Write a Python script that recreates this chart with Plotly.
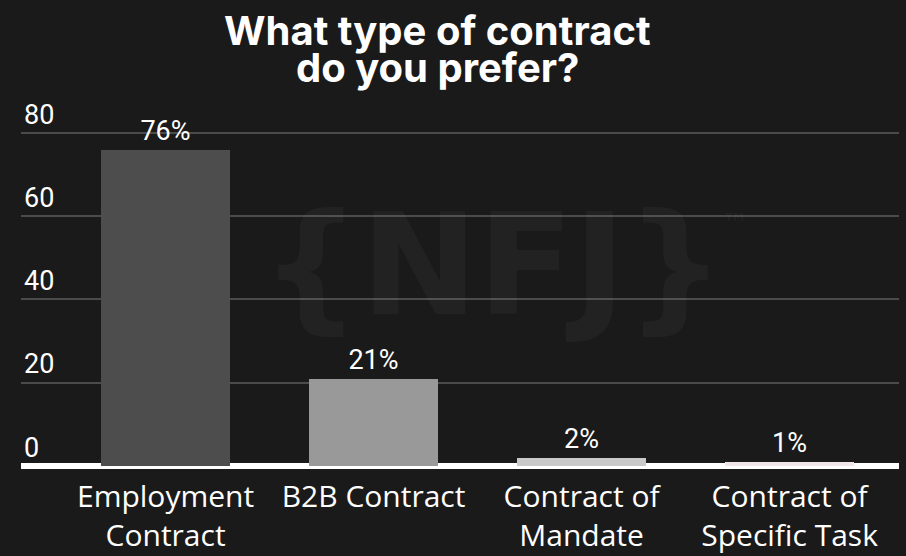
import plotly.graph_objects as go

# Survey answers: preferred contract type (share of respondents, %)
categories = ["Employment<br>Contract", "B2B Contract", "Contract of<br>Mandate", "Contract of<br>Specific Task"]
shares = [76, 21, 2, 1]
value_labels = ["76%", "21%", "2%", "1%"]
bar_colors = ["#4d4d4d", "#999999", "#c9c9c9", "#f1e6e8"]
y_ticks = [0, 20, 40, 60, 80]
title_lines = ["What type of contract", "do you prefer?"]

BG = "#1a1a1a"
Y_MAX = 92
PLOT_TOP, PLOT_BOTTOM, PLOT_LEFT, PLOT_RIGHT = 83, 466, 21, 899


def px_to_paper_x(px):
    return (px - PLOT_LEFT) / (PLOT_RIGHT - PLOT_LEFT)


def px_to_paper_y(py):
    return (PLOT_BOTTOM - py) / (PLOT_BOTTOM - PLOT_TOP)


fig = go.Figure(
    go.Bar(
        x=list(range(len(categories))),
        y=shares,
        width=0.62,
        marker=dict(color=bar_colors, line=dict(width=0)),
        text=value_labels,
        textposition="outside",
        textfont=dict(family="Roboto", size=27, color="#ffffff"),
        cliponaxis=False,
        hoverinfo="skip",
    )
)

# faint brand watermark behind the bars
fig.add_annotation(
    x=px_to_paper_x(493), y=px_to_paper_y(265), xref="paper", yref="paper",
    text="<b>{NFJ}</b>", showarrow=False,
    font=dict(family="DejaVu Sans", size=140, color="rgba(255,255,255,0.035)"),
)
fig.add_annotation(
    x=px_to_paper_x(719), y=px_to_paper_y(205), xref="paper", yref="paper",
    xanchor="left", yanchor="top",
    text="<b>™</b>", showarrow=False,
    font=dict(family="DejaVu Sans", size=28, color="rgba(255,255,255,0.035)"),
)

# two-line title, one annotation per line
for line, ypix in zip(title_lines, [30, 68]):
    fig.add_annotation(
        x=px_to_paper_x(437), y=px_to_paper_y(ypix), xref="paper", yref="paper",
        text=f"<b>{line}</b>", showarrow=False,
        xanchor="center", yanchor="middle",
        font=dict(family="Inter", size=40, color="#ffffff"),
    )

fig.update_layout(
    width=906, height=556,
    paper_bgcolor=BG, plot_bgcolor=BG,
    margin=dict(l=PLOT_LEFT, r=906 - PLOT_RIGHT, t=PLOT_TOP, b=556 - PLOT_BOTTOM),
    showlegend=False,
    bargap=0,
    xaxis=dict(
        range=[-0.695, 3.526],
        tickmode="array",
        tickvals=list(range(len(categories))),
        ticktext=categories,
        tickfont=dict(family="Open Sans", size=30, color="#ffffff"),
        ticklabelstandoff=10,
        automargin=False,
        showgrid=False, showline=False, zeroline=False, ticks="",
    ),
    yaxis=dict(
        range=[0, Y_MAX],
        tickmode="array",
        tickvals=y_ticks,
        ticktext=[str(v) for v in y_ticks],
        ticklabelposition="inside top",
        tickfont=dict(family="Roboto", size=27, color="#ffffff"),
        automargin=False,
        showgrid=True, gridcolor="#4b4b4b", gridwidth=2,
        zeroline=True, zerolinecolor="#ffffff", zerolinewidth=6,
        showline=False, ticks="",
    ),
)

fig.write_html("out.html")
